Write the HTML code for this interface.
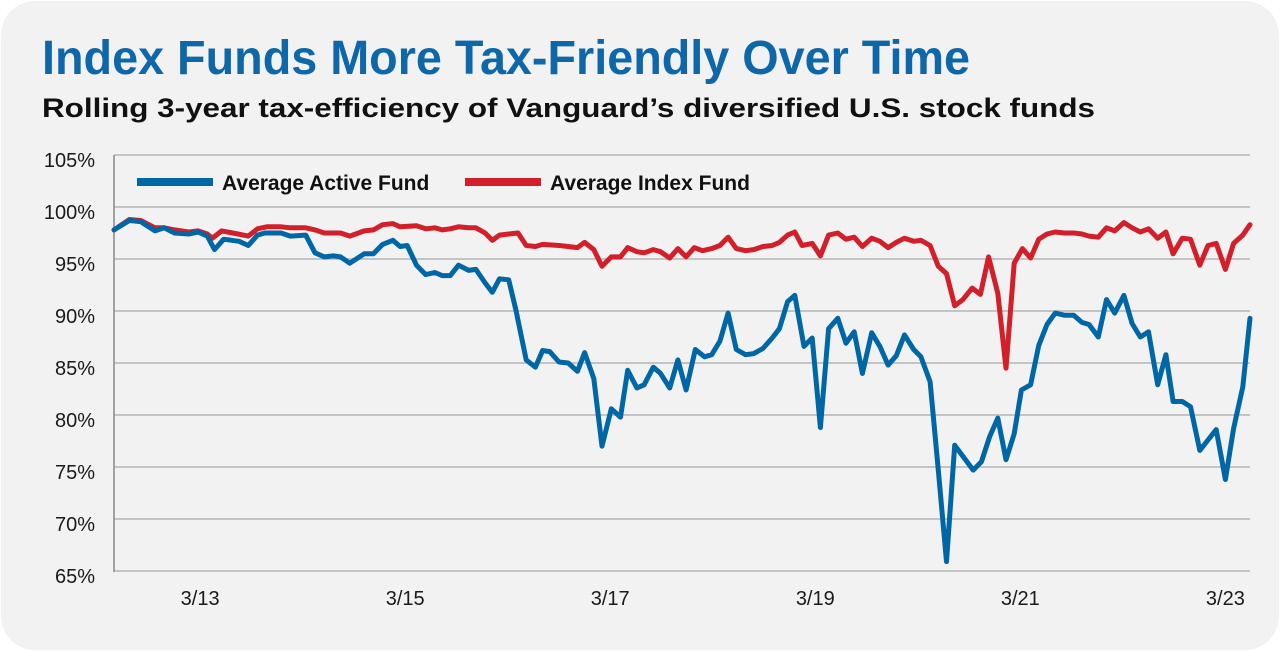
<!DOCTYPE html>
<html><head><meta charset="utf-8"><style>
html,body{margin:0;padding:0;background:#fff;}
svg{display:block;font-family:"Liberation Sans",Arial,sans-serif;}
</style></head><body>
<svg id="chart" width="1280" height="651" viewBox="0 0 1280 651" xmlns="http://www.w3.org/2000/svg">
<rect x="1" y="1" width="1278" height="649" rx="34" ry="34" fill="#f2f2f2"/>
<text x="42" y="74" font-size="48" font-weight="bold" fill="#0e67a8" textLength="928" lengthAdjust="spacingAndGlyphs">Index Funds More Tax-Friendly Over Time</text>
<text x="42" y="117" font-size="27" font-weight="bold" fill="#111" textLength="1053" lengthAdjust="spacingAndGlyphs">Rolling 3-year tax-efficiency of Vanguard’s diversified U.S. stock funds</text>
<g id="grid"></g>
<g id="yticks"></g>
<g id="xticks"></g>
<line x1="114" y1="155" x2="114" y2="572" stroke="#888" stroke-width="1.5"/>
<g id="series"></g>
<g>
<line x1="137" y1="182" x2="213" y2="182" stroke="#0067a6" stroke-width="8"/>
<text x="222" y="190" font-size="21" font-weight="bold" fill="#111">Average Active Fund</text>
<line x1="465" y1="182" x2="541" y2="182" stroke="#d21f29" stroke-width="8"/>
<text x="550" y="190" font-size="21" font-weight="bold" fill="#111">Average Index Fund</text>
</g>
</svg>
<script>
const yTicks=[65,70,75,80,85,90,95,100,105];
const xTickYears=[2013.17,2015.17,2017.17,2019.17,2021.17,2023.17];
const xTickLabels=["3/13","3/15","3/17","3/19","3/21","3/23"];
const activeDates=[2012.33,2012.48,2012.59,2012.73,2012.82,2012.92,2013.06,2013.15,2013.24,2013.31,2013.40,2013.55,2013.64,2013.73,2013.80,2013.96,2014.05,2014.20,2014.29,2014.38,2014.47,2014.54,2014.63,2014.77,2014.86,2014.95,2015.05,2015.12,2015.19,2015.28,2015.37,2015.46,2015.53,2015.61,2015.69,2015.79,2015.86,2015.95,2016.02,2016.09,2016.18,2016.25,2016.35,2016.44,2016.51,2016.58,2016.67,2016.76,2016.85,2016.92,2017.01,2017.09,2017.18,2017.27,2017.34,2017.43,2017.50,2017.59,2017.66,2017.75,2017.83,2017.91,2018.00,2018.09,2018.16,2018.24,2018.32,2018.40,2018.49,2018.57,2018.66,2018.75,2018.82,2018.90,2018.97,2019.06,2019.14,2019.22,2019.30,2019.39,2019.47,2019.55,2019.63,2019.72,2019.80,2019.88,2019.96,2020.04,2020.13,2020.20,2020.29,2020.37,2020.45,2020.53,2020.62,2020.71,2020.79,2020.87,2020.95,2021.03,2021.11,2021.18,2021.27,2021.35,2021.43,2021.51,2021.60,2021.69,2021.77,2021.84,2021.93,2022.01,2022.09,2022.18,2022.26,2022.34,2022.42,2022.51,2022.59,2022.66,2022.75,2022.83,2022.92,2023.00,2023.08,2023.17,2023.25,2023.34,2023.41];
const activeValues=[97.8,98.7,98.6,97.7,98.0,97.5,97.4,97.6,97.2,95.9,96.9,96.7,96.3,97.3,97.5,97.5,97.2,97.3,95.6,95.2,95.3,95.2,94.6,95.5,95.5,96.4,96.8,96.2,96.3,94.4,93.5,93.7,93.4,93.4,94.4,93.9,94.0,92.7,91.8,93.1,93.0,90.1,85.3,84.6,86.2,86.1,85.1,85.0,84.2,86.0,83.5,77.0,80.6,79.8,84.3,82.6,82.9,84.6,84.0,82.6,85.3,82.4,86.3,85.6,85.8,87.1,89.8,86.3,85.8,85.9,86.4,87.4,88.3,90.9,91.5,86.6,87.4,78.8,88.3,89.3,86.9,88.0,84.0,87.9,86.6,84.8,85.7,87.7,86.3,85.6,83.2,74.7,65.9,77.1,75.9,74.7,75.5,77.9,79.7,75.7,78.2,82.4,82.9,86.7,88.7,89.8,89.6,89.6,88.9,88.7,87.5,91.1,89.8,91.5,88.8,87.5,88.0,82.9,85.8,81.3,81.3,80.8,76.6,77.6,78.6,73.8,78.7,82.7,89.3];
const indexDates=[2012.33,2012.48,2012.59,2012.73,2012.82,2012.92,2013.06,2013.15,2013.24,2013.29,2013.38,2013.49,2013.64,2013.73,2013.82,2013.96,2014.05,2014.20,2014.29,2014.38,2014.54,2014.63,2014.77,2014.86,2014.95,2015.05,2015.12,2015.28,2015.37,2015.46,2015.53,2015.61,2015.69,2015.79,2015.86,2015.95,2016.02,2016.09,2016.18,2016.27,2016.35,2016.44,2016.51,2016.67,2016.76,2016.85,2016.92,2017.01,2017.09,2017.18,2017.27,2017.34,2017.43,2017.50,2017.59,2017.66,2017.75,2017.83,2017.91,2017.99,2018.07,2018.16,2018.24,2018.32,2018.40,2018.49,2018.57,2018.66,2018.75,2018.82,2018.90,2018.97,2019.04,2019.14,2019.22,2019.30,2019.39,2019.47,2019.55,2019.63,2019.72,2019.80,2019.88,2019.96,2020.04,2020.13,2020.20,2020.29,2020.37,2020.45,2020.53,2020.61,2020.70,2020.78,2020.86,2020.95,2021.03,2021.11,2021.19,2021.27,2021.35,2021.43,2021.51,2021.60,2021.69,2021.77,2021.84,2021.93,2022.01,2022.09,2022.18,2022.26,2022.34,2022.42,2022.51,2022.59,2022.66,2022.75,2022.83,2022.92,2023.00,2023.08,2023.17,2023.25,2023.34,2023.41];
const indexValues=[97.8,98.8,98.7,98.0,98.0,97.8,97.6,97.7,97.4,97.0,97.7,97.5,97.2,97.9,98.1,98.1,98.0,98.0,97.8,97.5,97.5,97.2,97.7,97.8,98.3,98.4,98.1,98.2,97.9,98.0,97.8,97.9,98.1,98.0,98.0,97.5,96.8,97.3,97.4,97.5,96.3,96.2,96.4,96.3,96.2,96.1,96.6,95.9,94.3,95.2,95.2,96.1,95.7,95.6,95.9,95.7,95.1,96.0,95.2,96.1,95.8,96.0,96.3,97.1,96.0,95.8,95.9,96.2,96.3,96.6,97.3,97.6,96.3,96.5,95.3,97.3,97.5,96.9,97.1,96.2,97.0,96.7,96.1,96.6,97.0,96.7,96.8,96.3,94.3,93.6,90.5,91.1,92.2,91.6,95.2,91.7,84.5,94.6,96.0,95.1,96.9,97.4,97.6,97.5,97.5,97.4,97.2,97.1,98.0,97.7,98.5,98.0,97.6,97.9,97.0,97.6,95.5,97.0,96.9,94.4,96.3,96.5,94.0,96.5,97.3,98.3];

const NS="http://www.w3.org/2000/svg";
const X0=114,X1=1250,Y0=155,Y1=571;
const T0=2012.33,T1=2023.41,V0=65,V1=105;
function xScale(t){return X0+(t-T0)/(T1-T0)*(X1-X0);}
function yScale(v){return Y1-(v-V0)/(V1-V0)*(Y1-Y0);}
function mk(tag,attrs,parent){const e=document.createElementNS(NS,tag);for(const k in attrs)e.setAttribute(k,attrs[k]);parent.appendChild(e);return e;}

const grid=document.getElementById('grid'),yt=document.getElementById('yticks'),xt=document.getElementById('xticks'),ser=document.getElementById('series');
yTicks.forEach(v=>{
  const l=mk('line',{x1:X0,x2:X1,y1:yScale(v),y2:yScale(v),stroke:'#c4c4c4','stroke-width':2},grid);
  
  
  const t=mk('text',{x:95,y:yScale(v)+12,'text-anchor':'end','font-size':20,fill:'#1a1a1a'},yt);
  t.textContent=v+'%';
  
  
});
xTickYears.forEach((t,i)=>{
  const e=mk('text',{x:xScale(t),y:605,'text-anchor':'middle','font-size':20,fill:'#1a1a1a'},xt);
  e.textContent=xTickLabels[i];
  
  
});
function line(dates,vals,color,name){
  const d=dates.map((t,i)=>(i?'L':'M')+xScale(t).toFixed(1)+' '+yScale(vals[i]).toFixed(1)).join(' ');
  const p=mk('path',{d:d,fill:'none',stroke:color,'stroke-width':5,'stroke-linejoin':'round','stroke-linecap':'round'},ser);
  
  
}
line(indexDates,indexValues,'#d21f29','index-fund-line');
line(activeDates,activeValues,'#0067a6','active-fund-line');
</script>
</body></html>
